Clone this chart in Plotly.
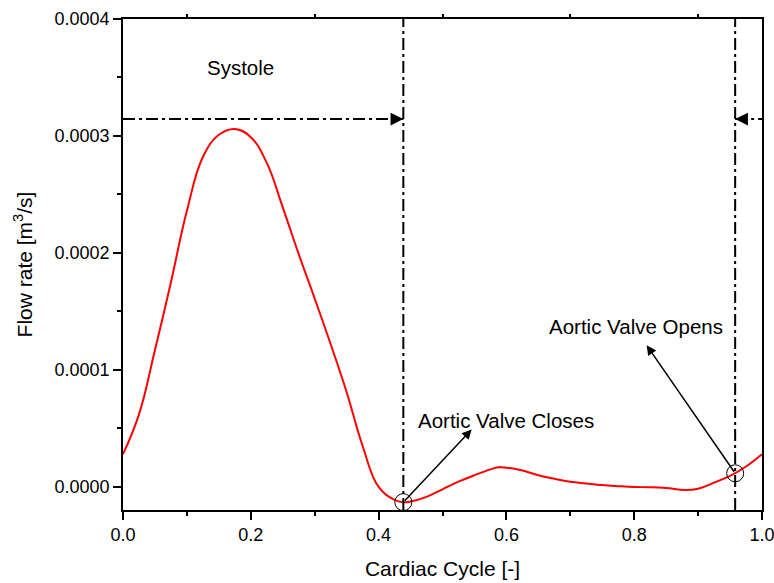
import plotly.graph_objects as go

# ---- data ----
cycle = [0.0, 0.025, 0.05, 0.075, 0.1, 0.125, 0.15, 0.175, 0.2, 0.225, 0.25, 0.275, 0.3,
         0.325, 0.35, 0.375, 0.4, 0.425, 0.4387, 0.45, 0.475, 0.5, 0.525, 0.55, 0.575,
         0.5875, 0.6, 0.625, 0.65, 0.675, 0.7, 0.725, 0.75, 0.775, 0.8, 0.825, 0.85,
         0.88, 0.9, 0.925, 0.95, 0.975, 1.0]
flow_e4 = [0.28, 0.62, 1.17, 1.75, 2.36, 2.82, 3.01, 3.06, 2.99, 2.77, 2.39, 1.99, 1.61,
           1.22, 0.81, 0.35, 0.0, -0.11, -0.13, -0.125, -0.085, -0.02, 0.045, 0.10, 0.15,
           0.168, 0.165, 0.14, 0.10, 0.07, 0.045, 0.03, 0.016, 0.007, 0.0, -0.003, -0.01,
           -0.026, -0.015, 0.037, 0.095, 0.175, 0.28]
flow = [v * 1e-4 for v in flow_e4]

valve_close_x = 0.4387
valve_close_y = -0.13e-4
valve_open_x = 0.958
valve_open_y = 0.117e-4
systole_arrow_y = 3.145e-4

x_ticks = [0.0, 0.2, 0.4, 0.6, 0.8, 1.0]
x_tick_labels = ["0.0", "0.2", "0.4", "0.6", "0.8", "1.0"]
top_ticks = [0.1, 0.3, 0.5, 0.7, 0.9]
y_ticks = [0.0, 0.0001, 0.0002, 0.0003, 0.0004]
y_tick_labels = ["0.0000", "0.0001", "0.0002", "0.0003", "0.0004"]

labels = ["Systole", "Aortic Valve Closes", "Aortic Valve Opens"]
label_x = [0.184, 0.459, 0.664]
label_y = [3.585e-4, 0.571e-4, 1.373e-4]
arrow_head_x = [0.5457, 0.8195]
arrow_head_y = [0.492e-4, 1.211e-4]

FONT = "Liberation Sans, Arial, Helvetica, sans-serif"
DASHDOT = "12px,4px,3px,4px"

fig = go.Figure()

fig.add_trace(go.Scatter(x=cycle, y=flow, mode="lines",
                         line=dict(color="#ff0000", width=2, shape="spline", smoothing=1.2),
                         hoverinfo="skip", showlegend=False))

# vertical dash-dot event lines
for xv in [valve_close_x, valve_open_x]:
    fig.add_shape(type="line", xref="x", yref="paper", x0=xv, x1=xv, y0=0, y1=1,
                  line=dict(color="black", width=2, dash=DASHDOT))

# horizontal dash-dot systole arrows
fig.add_trace(go.Scatter(x=[0.0, valve_close_x], y=[systole_arrow_y, systole_arrow_y],
                         mode="lines", line=dict(color="black", width=2, dash=DASHDOT),
                         hoverinfo="skip", showlegend=False))
fig.add_trace(go.Scatter(x=[valve_open_x, 1.0], y=[systole_arrow_y, systole_arrow_y],
                         mode="lines", line=dict(color="black", width=2, dash=DASHDOT),
                         hoverinfo="skip", showlegend=False))
fig.add_annotation(x=valve_close_x, y=systole_arrow_y, ax=valve_close_x - 0.01, ay=systole_arrow_y,
                   xref="x", yref="y", axref="x", ayref="y", text="", showarrow=True,
                   arrowhead=2, arrowsize=1.7, arrowwidth=1.5, arrowcolor="black", standoff=0)
fig.add_annotation(x=valve_open_x, y=systole_arrow_y, ax=valve_open_x + 0.01, ay=systole_arrow_y,
                   xref="x", yref="y", axref="x", ayref="y", text="", showarrow=True,
                   arrowhead=2, arrowsize=1.7, arrowwidth=1.5, arrowcolor="black", standoff=0)

# circles at valve events
fig.add_trace(go.Scatter(x=[valve_close_x, valve_open_x], y=[valve_close_y, valve_open_y],
                         mode="markers",
                         marker=dict(symbol="circle-open", size=17, color="black",
                                     line=dict(width=1, color="black")),
                         hoverinfo="skip", showlegend=False))

# pointer arrows
for hx, hy, tx, ty in zip(arrow_head_x, arrow_head_y,
                          [valve_close_x, valve_open_x], [valve_close_y, valve_open_y]):
    fig.add_annotation(x=hx, y=hy, ax=tx, ay=ty, xref="x", yref="y", axref="x", ayref="y",
                       text="", showarrow=True, arrowhead=2, arrowsize=1.3, arrowwidth=1.5,
                       arrowcolor="black", standoff=0, startstandoff=0)

# text labels
for i, (t, lx, ly) in enumerate(zip(labels, label_x, label_y)):
    fig.add_annotation(x=lx, y=ly, xref="x", yref="y", text=t, showarrow=False,
                       xanchor="center" if i == 0 else "left", yanchor="middle",
                       font=dict(family=FONT, size=20.5, color="black"))

# dummy trace for top axis
fig.add_trace(go.Scatter(x=[None], y=[None], xaxis="x2", showlegend=False, hoverinfo="skip"))

fig.update_layout(
    width=774, height=583,
    margin=dict(l=123, r=12, t=19, b=73, autoexpand=False),
    paper_bgcolor="white", plot_bgcolor="white",
    font=dict(family=FONT, size=18, color="black"),
    showlegend=False,
    xaxis=dict(range=[0, 1], tickvals=x_ticks, ticktext=x_tick_labels, automargin=False,
               ticklabeloverflow="allow",
               ticks="outside", ticklen=8, tickwidth=1.5, tickcolor="black",
               minor=dict(ticks="outside", ticklen=4, tickwidth=1.5, tickcolor="black", dtick=0.1,
                          tick0=0, showgrid=False),
               showline=True, linecolor="black", linewidth=1.5, mirror=True,
               showgrid=False, zeroline=False,
               tickfont=dict(size=18, family=FONT, color="black"),
               title=dict(text="Cardiac Cycle [-]", font=dict(size=21, family=FONT, color="black"),
                          standoff=17)),
    xaxis2=dict(range=[0, 1], overlaying="x", side="top", anchor="y", automargin=False,
                tickvals=top_ticks, showticklabels=False, ticks="outside", ticklen=4,
                tickwidth=1.5, tickcolor="black", showline=False, showgrid=False, zeroline=False),
    yaxis=dict(range=[-0.0000197, 0.0004], tickvals=y_ticks, ticktext=y_tick_labels,
               automargin=False, ticklabeloverflow="allow",
               ticks="outside", ticklen=8, tickwidth=1.5, tickcolor="black",
               minor=dict(ticks="outside", ticklen=4, tickwidth=1.5, tickcolor="black",
                          dtick=0.00005, tick0=0, showgrid=False),
               showline=True, linecolor="black", linewidth=1.5, mirror=True,
               showgrid=False, zeroline=False,
               tickfont=dict(size=18, family=FONT, color="black"),
               title=dict(text="Flow rate [m<sup>3</sup>/s]",
                          font=dict(size=21, family=FONT, color="black"), standoff=16)),
)

fig.write_html("out.html", config={"displayModeBar": False},
               post_script="document.body.style.margin='0';document.body.style.overflow='hidden';")
